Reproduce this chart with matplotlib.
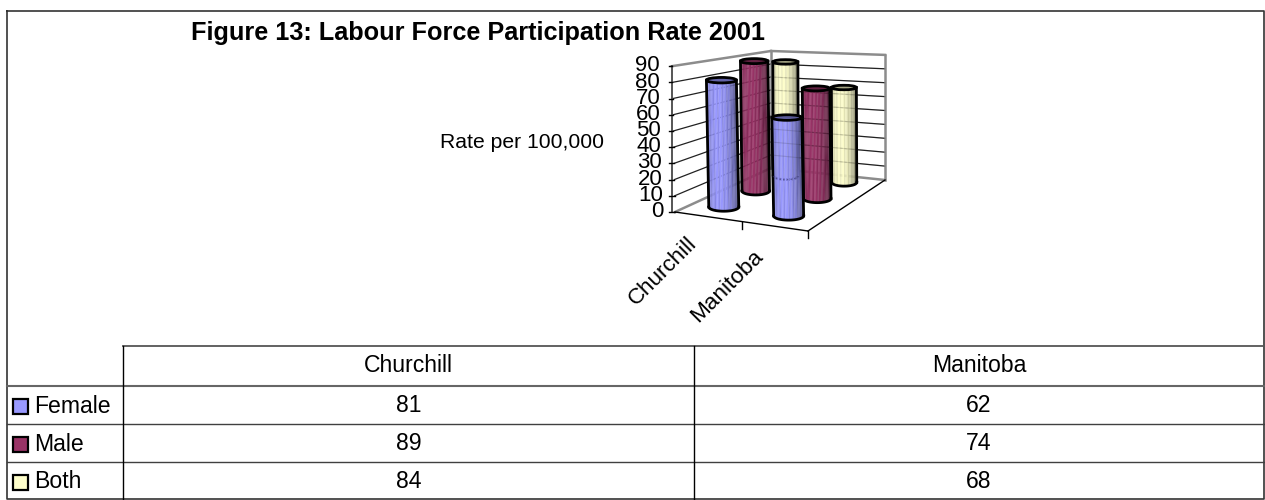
import numpy as np
from matplotlib import pyplot as plt
from matplotlib.colors import to_rgb
from matplotlib.patches import Polygon, Ellipse, Rectangle

plt.rcParams['font.family'] = ['Liberation Sans', 'DejaVu Sans']

title = "Figure 13: Labour Force Participation Rate 2001"
y_title = "Rate per 100,000"
categories = ["Churchill", "Manitoba"]
series_names = ["Female", "Male", "Both"]
female = [81, 62]
male = [89, 74]
both = [84, 68]
y_ticks = [0, 10, 20, 30, 40, 50, 60, 70, 80, 90]
series_colors = ["#9999FF", "#993366", "#FFFFCC"]

series_values = [female, male, both]

fig = plt.figure(figsize=(12.65, 5.0), dpi=100)
ax = fig.add_axes([0, 0, 1, 1])
ax.set_xlim(0, 1265)
ax.set_ylim(500, 0)
ax.axis("off")

# ------ fake 3d projection, c across the front, d into the depth ------ #

def project(c, d, v):
    # c and d run 0..1 over the floor of the plot box
    x = 675 + 133 * c + 96 * d - 19 * c * d
    y = 212 + 19 * c - (44 + 7 * c) * d
    scale = 1.62 + 0.04 * c - (0.32 - 0.05 * c) * d
    return x - v * 0.035 * (1 - d), y - v * scale

def wall_line(p1, p2, color, lw, z=1, alpha=1.0):
    ax.plot([p1[0], p2[0]], [p1[1], p2[1]], color=color, lw=lw, zorder=z, alpha=alpha, solid_capstyle="projecting")

# walls, the gridlines show faintly through the cylinders too
for v in y_ticks[1:-1]:
    wall_line(project(0, 0, v), project(0, 1, v), "#222222", 0.9)
    wall_line(project(0, 1, v), project(1, 1, v), "#222222", 0.9)
    wall_line(project(0, 1, v), project(1, 1, v), "#222222", 0.8, 6.9, 0.16)
gray = "#8c8c8c"
wall_line(project(0, 0, 0), project(0, 1, 0), gray, 1.8, 2)
wall_line(project(0, 1, 0), project(1, 1, 0), gray, 1.8, 2)
wall_line(project(0, 0, 90), project(0, 1, 90), gray, 1.8, 2)
wall_line(project(0, 1, 90), project(1, 1, 90), gray, 1.8, 2)
wall_line(project(0, 1, 0), project(0, 1, 90), gray, 1.8, 2)
wall_line(project(1, 1, 0), project(1, 1, 90), gray, 1.8, 2)

# axes lines and ticks
wall_line(project(0, 0, 0), project(1, 0, 0), "black", 1.0, 3)
wall_line(project(1, 0, 0), project(1, 1, 0), "black", 1.0, 3)
x0, y0 = project(0, 0, 90)
x1, y1 = project(0, 0, 0)
ax.plot([x0, x0], [y0, y1], color="#555555", lw=1.4, zorder=3)
for v in y_ticks:
    px, py = project(0, 0, v)
    ax.plot([x0 - 3, px], [py, py], color="black", lw=1.0, zorder=3)
    ax.text(px - 12, py - 0.4, str(v), ha="right", va="center", fontsize=16, color="black", zorder=20)
for c in [0.5, 1.0]:
    px, py = project(c, 0, 0)
    ax.plot([px, px], [py, py + 7], color="black", lw=1.0, zorder=3)

# ------ cylinders ------ #

depth_pos = [0.17, 0.52, 0.85]

def draw_cylinder(c, d, value, color, z):
    bx, by = project(0.25 + 0.5 * c, depth_pos[d], 0)
    tx, ty = project(0.25 + 0.5 * c, depth_pos[d], value)
    by -= 2
    ty -= 1
    w = 30 - 2.5 * d
    bh, th = 8.5 - 0.5 * d, 5.5 - 0.5 * d
    n = 30
    rgb = np.array(to_rgb(color))
    for i in range(n):
        a0, a1 = np.pi * (1 - i / n), np.pi * (1 - (i + 1) / n)
        f0, f1 = np.cos(a0), np.cos(a1)
        shade = 1.0 - 0.3 * abs((f0 + f1) / 2 + 0.25) ** 2 - (0.09 if i % 3 == 0 else 0)
        col = np.clip(rgb * shade, 0, 1)
        xs = [bx + f0 * w / 2, bx + f1 * w / 2, tx + f1 * w / 2, tx + f0 * w / 2]
        ys = [by + np.sin(a0) * bh / 2, by + np.sin(a1) * bh / 2, ty + np.sin(a1) * th / 2, ty + np.sin(a0) * th / 2]
        ax.add_patch(Polygon(list(zip(xs, ys)), closed=True, fc=col, ec=col, lw=0.2, zorder=z))
    t = np.linspace(np.pi, 0, 30)
    ax.plot(bx + np.cos(t) * w / 2, by + np.sin(t) * bh / 2, color="black", lw=2.0, zorder=z + 0.2)
    ax.plot([bx - w / 2, tx - w / 2], [by, ty], color="black", lw=2.0, zorder=z + 0.2)
    ax.plot([bx + w / 2, tx + w / 2], [by, ty], color="black", lw=2.0, zorder=z + 0.2)
    ax.add_patch(Ellipse((tx, ty), w, th, fc=rgb * 0.65, ec="black", lw=2.0, zorder=z + 0.3))
    return bx, by, w, bh

z = 4
bases = {}
for d in [2, 1, 0]:
    for c in [0, 1]:
        bases[(c, d)] = draw_cylinder(c, d, series_values[d][c], series_colors[d], z)
        z += 0.5

# faint base of the back Churchill cylinder seen through the front one
bx, by, w, bh = bases[(0, 2)]
t = np.linspace(np.pi, 0, 30)
ax.plot(bx + np.cos(t) * w / 2, by + np.sin(t) * bh / 2, color="#333366", lw=1.0, ls=":", alpha=0.6, zorder=z)

# ------ text ------ #

ax.text(191, 33, title, fontsize=18.2, fontweight="bold", ha="left", va="center")
ax.text(522, 142, y_title, fontsize=15.2, ha="center", va="center")
ax.text(663, 271, categories[0], fontsize=16.2, rotation=45, ha="center", va="center", rotation_mode="anchor")
ax.text(727, 286, categories[1], fontsize=16.2, rotation=45, ha="center", va="center", rotation_mode="anchor")

# ------ data table ------ #

frame = "#404040"
left, col0, col1, right = 7, 123, 694, 1264
rows = [346, 386, 424, 462, 499]
ax.plot([left, right, right, left, left], [11, 11, 499, 499, 11], color="#333333", lw=1.2)
ax.plot([col0, right], [rows[0], rows[0]], color="#555555", lw=1.3)
ax.plot([left, right], [rows[1], rows[1]], color="#666666", lw=1.5)
for y in rows[2:-1]:
    ax.plot([left, right], [y, y], color=frame, lw=1.0)
ax.plot([col0, col0], [rows[0], rows[-1]], color="black", lw=1.0)
ax.plot([col1, col1], [rows[0], rows[-1]], color="black", lw=1.0)

mid0, mid1 = (col0 + col1) / 2, (col1 + right) / 2
for name, mid in zip(categories, [mid0, mid1]):
    ax.text(mid, 365.5, name, fontsize=16.6, ha="center", va="center")
for i, name in enumerate(series_names):
    yc = (rows[i + 1] + rows[i + 2]) / 2
    ax.add_patch(Rectangle((13, yc - 6), 15, 15, fc=series_colors[i], ec="black", lw=1.6))
    ax.text(34, yc + 1.5, name, fontsize=16.6, ha="left", va="center")
    ax.text(mid0, yc + 0.5, str(series_values[i][0]), fontsize=16.6, ha="center", va="center")
    ax.text(mid1, yc + 0.5, str(series_values[i][1]), fontsize=16.6, ha="center", va="center")

fig.savefig("out.png", dpi=100)
